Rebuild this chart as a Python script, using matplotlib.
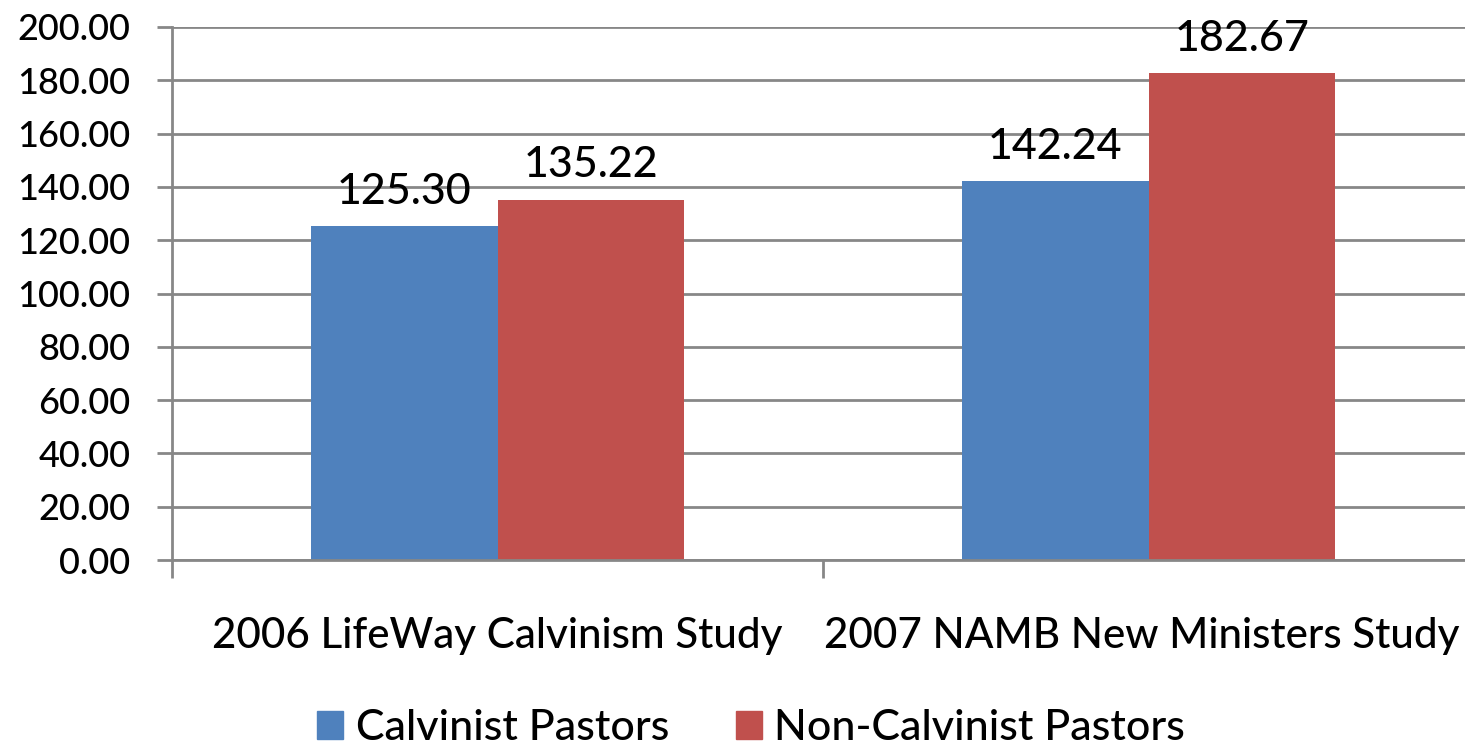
import matplotlib
matplotlib.use("Agg")
import matplotlib.pyplot as plt
from matplotlib.patches import Patch
import numpy as np

categories = ["2006 LifeWay Calvinism Study", "2007 NAMB New Ministers Study"]
series_names = ["Calvinist Pastors", "Non-Calvinist Pastors"]
calvinist = [125.30, 142.24]
non_calvinist = [135.22, 182.67]
yticks = [0, 20, 40, 60, 80, 100, 120, 140, 160, 180, 200]
colors = ["#4F81BD", "#C0504D"]

plt.rcParams['font.family'] = ['Lato', 'DejaVu Sans']

W, H = 1465, 748
fig = plt.figure(figsize=(W / 100, H / 100), dpi=100)
left, right, bottom, top = 172, 1474, 560, 27
ax = fig.add_axes([left / W, 1 - bottom / H, (right - left) / W, (bottom - top) / H])

x = np.arange(len(categories))
bw = 0.287
gcol = "#878787"
ax.set_axisbelow(True)
ax.yaxis.grid(True, color=gcol, linewidth=2)
b1 = ax.bar(x - bw / 2, calvinist, bw, color=colors[0], zorder=2)
b2 = ax.bar(x + bw / 2, non_calvinist, bw, color=colors[1], zorder=2)
for bars, vals in ((b1, calvinist), (b2, non_calvinist)):
    for r, v in zip(bars, vals):
        ax.annotate(f"{v:.2f}", (r.get_x() + r.get_width() / 2, v), xytext=(0, 11),
                    textcoords="offset points", ha="center", va="bottom", fontsize=31,
                    fontweight="medium")

ax.set_xlim(-0.5, 1.5)
ax.set_ylim(0, 200)
ax.set_yticks(yticks)
ax.set_yticklabels([f"{v:.2f}" for v in yticks], fontsize=26, fontweight="medium")
ax.tick_params(axis="y", length=11, width=2, color=gcol, pad=19)
ax.set_xticks([-0.5, 0.5, 1.5])
ax.set_xticklabels([])
ax.tick_params(axis="x", length=13, width=2, color=gcol)
label_shift = [0, -7]
for i, c in enumerate(categories):
    ax.annotate(c, (x[i], -0.142), xycoords=ax.get_xaxis_transform(),
                xytext=(label_shift[i], 0), textcoords="offset pixels",
                ha="center", va="center", fontsize=30.3, fontweight="medium",
                annotation_clip=False)
for s in ["top", "right"]:
    ax.spines[s].set_visible(False)
for s in ["left", "bottom"]:
    ax.spines[s].set_color(gcol)
    ax.spines[s].set_linewidth(2)

handles = [Patch(color=colors[0]), Patch(color=colors[1])]
fig.legend(handles, series_names, loc="center", bbox_to_anchor=(751 / W, 1 - 728 / H),
           ncol=2, frameon=False, prop={"size": 31, "weight": "medium"},
           handlelength=0.62, handleheight=0.62,
           handletextpad=0.28, columnspacing=1.55)

fig.savefig("out.png", dpi=100)
